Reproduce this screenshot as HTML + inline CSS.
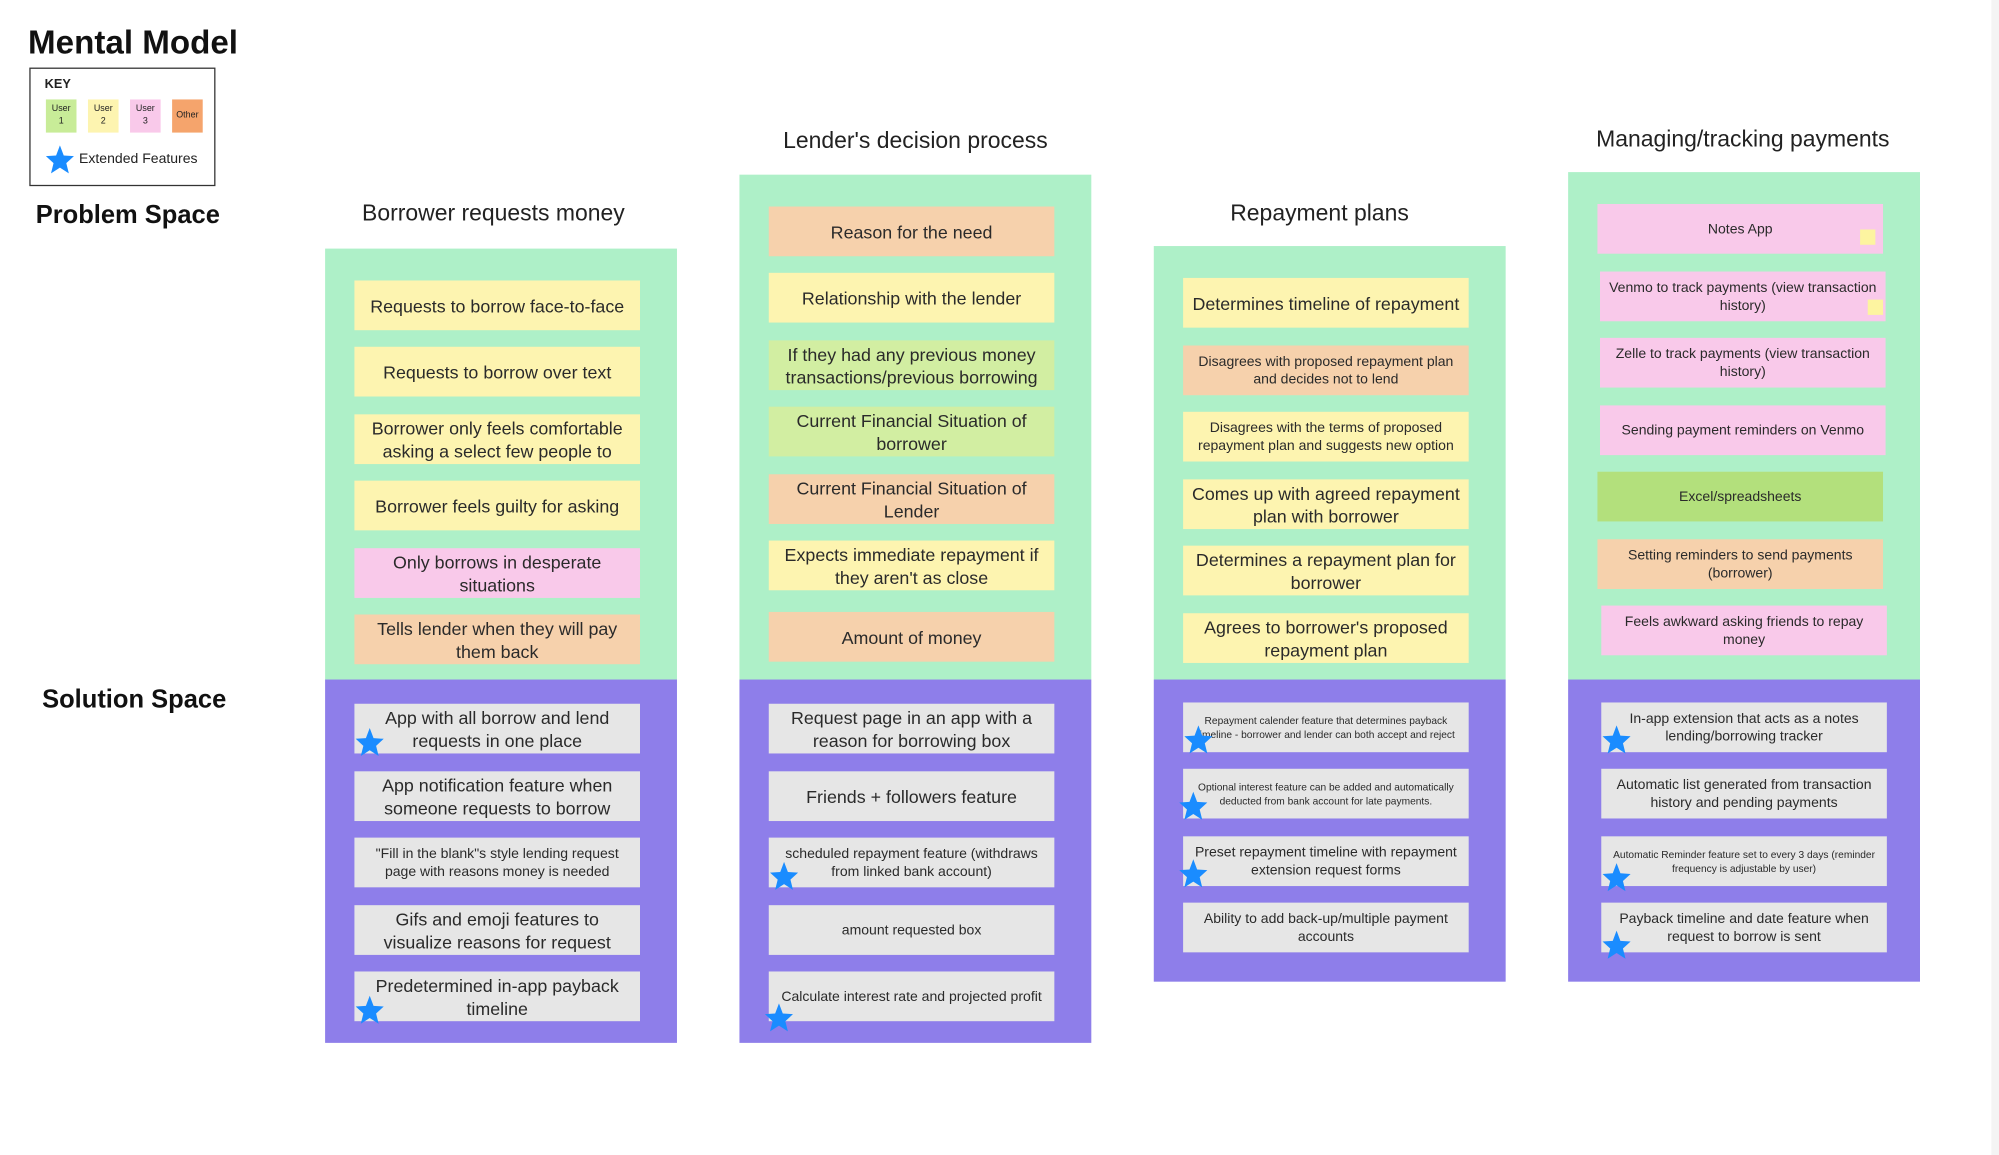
<!DOCTYPE html>
<html><head><meta charset="utf-8"><style>
html,body{margin:0;padding:0;background:#fff;width:1999px;height:1155px;overflow:hidden}
#c{position:absolute;left:0;top:0;width:1568px;height:906px;transform:scale(1.2749);transform-origin:0 0;font-family:"Liberation Sans",sans-serif;color:#222}
.a{position:absolute}
.g{position:absolute;background:#aef0c8}
.p{position:absolute;background:#8e7eea}
.k{position:absolute;width:224px;height:39px;display:flex;align-items:center;justify-content:center;text-align:center;font-size:14px;line-height:18px;box-sizing:border-box;padding:0 4px;overflow:hidden;color:#2a2a2a}
.y{background:#fdf4b0}.o{background:#f6d1ac}.pk{background:#f9c9ea}.lg{background:#d2eea2}.eg{background:#b3e07c}.gr{background:#e6e6e6}
.s{font-size:11px;line-height:14px}.xs{font-size:8px;line-height:11px}
.t{position:absolute;font-size:18px;text-align:center;width:300px}
.st{position:absolute;width:24px;height:24px}
</style></head><body><div id="c">
<div class="a" style="left:22px;top:18px;font-size:26px;font-weight:bold;color:#111">Mental Model</div>
<div class="a" style="left:23px;top:53px;width:146px;height:93px;border:1.5px solid #333;box-sizing:border-box"></div>
<div class="a" style="left:35px;top:61px;font-size:10px;font-weight:bold">KEY</div>
<div class="a" style="left:36px;top:78px;width:24px;height:26px;background:#c8ec98;font-size:7px;text-align:center;line-height:10px;padding-top:3px;box-sizing:border-box">User<br>1</div>
<div class="a" style="left:69px;top:78px;width:24px;height:26px;background:#fdf4b0;font-size:7px;text-align:center;line-height:10px;padding-top:3px;box-sizing:border-box">User<br>2</div>
<div class="a" style="left:102px;top:78px;width:24px;height:26px;background:#f9c9ea;font-size:7px;text-align:center;line-height:10px;padding-top:3px;box-sizing:border-box">User<br>3</div>
<div class="a" style="left:135px;top:78px;width:24px;height:26px;background:#f5a46c;font-size:7px;text-align:center;line-height:26px">Other</div>
<svg class="a" style="left:35px;top:113px" width="24" height="24" viewBox="0 0 24 24"><polygon points="12,1 15,9 23,9.5 17,15 19,23 12,18.5 5,23 7,15 1,9.5 9,9" fill="#1a8cff"/></svg>
<div class="a" style="left:62px;top:119px;font-size:11px">Extended Features</div>
<div class="a" style="left:28px;top:158px;font-size:20px;font-weight:bold;color:#111">Problem Space</div>
<div class="a" style="left:33px;top:538px;font-size:20px;font-weight:bold;color:#111">Solution Space</div>

<div class="t" style="left:237px;top:157px">Borrower requests money</div>
<div class="t" style="left:568px;top:100px">Lender's decision process</div>
<div class="t" style="left:885px;top:157px">Repayment plans</div>
<div class="t" style="left:1217px;top:99px">Managing/tracking payments</div>

<div class="g" style="left:255px;top:195px;width:276px;height:338px"></div>
<div class="p" style="left:255px;top:533px;width:276px;height:285px"></div>
<div class="g" style="left:580px;top:137px;width:276px;height:396px"></div>
<div class="p" style="left:580px;top:533px;width:276px;height:285px"></div>
<div class="g" style="left:905px;top:193px;width:276px;height:340px"></div>
<div class="p" style="left:905px;top:533px;width:276px;height:237px"></div>
<div class="g" style="left:1230px;top:135px;width:276px;height:398px"></div>
<div class="p" style="left:1230px;top:533px;width:276px;height:237px"></div>

<!-- col1 -->
<div class="k y" style="left:278px;top:220px">Requests to borrow face-to-face</div>
<div class="k y" style="left:278px;top:272px">Requests to borrow over text</div>
<div class="k y" style="left:278px;top:325px">Borrower only feels comfortable asking a select few people to</div>
<div class="k y" style="left:278px;top:377px">Borrower feels guilty for asking</div>
<div class="k pk" style="left:278px;top:430px">Only borrows in desperate situations</div>
<div class="k o" style="left:278px;top:482px">Tells lender when they will pay them back</div>
<div class="k gr" style="left:278px;top:552px">App with all borrow and lend requests in one place</div>
<div class="k gr" style="left:278px;top:605px">App notification feature when someone requests to borrow</div>
<div class="k gr s" style="left:278px;top:657px">"Fill in the blank"s style lending request page with reasons money is needed</div>
<div class="k gr" style="left:278px;top:710px">Gifs and emoji features to visualize reasons for request</div>
<div class="k gr" style="left:278px;top:762px">Predetermined in-app payback timeline</div>

<!-- col2 -->
<div class="k o" style="left:603px;top:162px">Reason for the need</div>
<div class="k y" style="left:603px;top:214px">Relationship with the lender</div>
<div class="k lg" style="left:603px;top:267px">If they had any previous money transactions/previous borrowing</div>
<div class="k lg" style="left:603px;top:319px">Current Financial Situation of borrower</div>
<div class="k o" style="left:603px;top:372px">Current Financial Situation of Lender</div>
<div class="k y" style="left:603px;top:424px">Expects immediate repayment if they aren't as close</div>
<div class="k o" style="left:603px;top:480px">Amount of money</div>
<div class="k gr" style="left:603px;top:552px">Request page in an app with a reason for borrowing box</div>
<div class="k gr" style="left:603px;top:605px">Friends + followers feature</div>
<div class="k gr s" style="left:603px;top:657px">scheduled repayment feature (withdraws from linked bank account)</div>
<div class="k gr s" style="left:603px;top:710px">amount requested box</div>
<div class="k gr s" style="left:603px;top:762px">Calculate interest rate and projected profit</div>

<!-- col3 -->
<div class="k y" style="left:928px;top:218px">Determines timeline of repayment</div>
<div class="k o s" style="left:928px;top:271px">Disagrees with proposed repayment plan and decides not to lend</div>
<div class="k y s" style="left:928px;top:323px">Disagrees with the terms of proposed repayment plan and suggests new option</div>
<div class="k y" style="left:928px;top:376px">Comes up with agreed repayment plan with borrower</div>
<div class="k y" style="left:928px;top:428px">Determines a repayment plan for borrower</div>
<div class="k y" style="left:928px;top:481px">Agrees to borrower's proposed repayment plan</div>
<div class="k gr xs" style="left:928px;top:551px">Repayment calender feature that determines payback timeline - borrower and lender can both accept and reject</div>
<div class="k gr xs" style="left:928px;top:603px">Optional interest feature can be added and automatically deducted from bank account for late payments.</div>
<div class="k gr s" style="left:928px;top:656px">Preset repayment timeline with repayment extension request forms</div>
<div class="k gr s" style="left:928px;top:708px">Ability to add back-up/multiple payment accounts</div>

<!-- col4 -->
<div class="k pk s" style="left:1253px;top:160px">Notes App</div>
<div class="a" style="left:1459px;top:180px;width:12px;height:12px;background:#fdf4a0"></div>
<div class="k pk s" style="left:1255px;top:213px">Venmo to track payments (view transaction history)</div>
<div class="a" style="left:1465px;top:235px;width:12px;height:12px;background:#fdf4a0"></div>
<div class="k pk s" style="left:1255px;top:265px">Zelle to track payments (view transaction history)</div>
<div class="k pk s" style="left:1255px;top:318px">Sending payment reminders on Venmo</div>
<div class="k eg s" style="left:1253px;top:370px">Excel/spreadsheets</div>
<div class="k o s" style="left:1253px;top:423px">Setting reminders to send payments (borrower)</div>
<div class="k pk s" style="left:1256px;top:475px">Feels awkward asking friends to repay money</div>
<div class="k gr s" style="left:1256px;top:551px">In-app extension that acts as a notes lending/borrowing tracker</div>
<div class="k gr s" style="left:1256px;top:603px">Automatic list generated from transaction history and pending payments</div>
<div class="k gr xs" style="left:1256px;top:656px">Automatic Reminder feature set to every 3 days (reminder frequency is adjustable by user)</div>
<div class="k gr s" style="left:1256px;top:708px">Payback timeline and date feature when request to borrow is sent</div>

<!-- stars -->
<svg width="0" height="0" style="position:absolute"><defs><polygon id="sp" points="12,1 15,9 23,9.5 17,15 19,23 12,18.5 5,23 7,15 1,9.5 9,9" fill="#1a8cff"/></defs></svg>
<svg class="st" style="left:278px;top:570px" viewBox="0 0 24 24"><use href="#sp"/></svg>
<svg class="st" style="left:278px;top:780px" viewBox="0 0 24 24"><use href="#sp"/></svg>
<svg class="st" style="left:603px;top:675px" viewBox="0 0 24 24"><use href="#sp"/></svg>
<svg class="st" style="left:599px;top:786px" viewBox="0 0 24 24"><use href="#sp"/></svg>
<svg class="st" style="left:928px;top:568px" viewBox="0 0 24 24"><use href="#sp"/></svg>
<svg class="st" style="left:924px;top:620px" viewBox="0 0 24 24"><use href="#sp"/></svg>
<svg class="st" style="left:924px;top:673px" viewBox="0 0 24 24"><use href="#sp"/></svg>
<svg class="st" style="left:1256px;top:568px" viewBox="0 0 24 24"><use href="#sp"/></svg>
<svg class="st" style="left:1256px;top:676px" viewBox="0 0 24 24"><use href="#sp"/></svg>
<svg class="st" style="left:1256px;top:729px" viewBox="0 0 24 24"><use href="#sp"/></svg>

<div class="a" style="left:1562px;top:0;width:6px;height:906px;background:#f4f4f4"></div>
</div></body></html>
